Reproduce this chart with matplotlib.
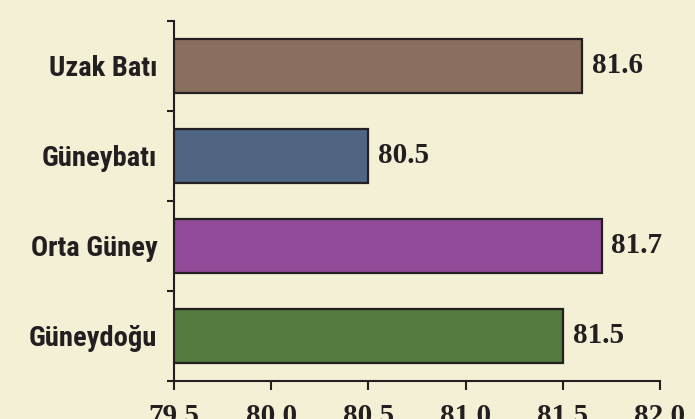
import matplotlib
matplotlib.use("Agg")
import matplotlib.pyplot as plt
from matplotlib.ticker import FixedLocator

categories = ["Uzak Batı", "Güneybatı", "Orta Güney", "Güneydoğu"]
values = [81.6, 80.5, 81.7, 81.5]
colors = ["#8A6F5E", "#4F6582", "#914B99", "#557A3F"]
xticks = [79.5, 80.0, 80.5, 81.0, 81.5, 82.0]
xticklabels = ["79.5", "80.0", "80.5", "81.0", "81.5", "82.0"]

bg = "#F4F0D6"
ink = "#231F20"
label_font = ["Roboto Condensed", "Liberation Sans Narrow", "Lato", "DejaVu Sans"]
num_font = ["Liberation Serif", "DejaVu Serif"]

fig = plt.figure(figsize=(6.95, 4.19), dpi=100, facecolor=bg)
ax = fig.add_axes([0.2504, 0.0907, 0.6992, 0.8592])
ax.set_facecolor(bg)

base = xticks[0]
ypos = list(range(len(categories)))
ax.barh(ypos, [v - base for v in values], left=base, height=0.61,
        color=colors, edgecolor=ink, linewidth=1.6, zorder=3)

for y, v in zip(ypos, values):
    ax.text(v + 0.05, y, f"{v:.1f}", va="center", ha="left",
            fontsize=21, fontweight="bold", family=num_font, color=ink)

ax.set_xlim(xticks[0], xticks[-1])
ax.set_ylim(len(categories) - 0.5, -0.5)
ax.set_xticks(xticks)
ax.set_xticklabels(xticklabels, fontsize=21, fontweight="bold",
                   family=num_font, color=ink)
ax.set_yticks(ypos)
ax.set_yticklabels(categories, fontsize=20.5, fontweight="semibold",
                   family=label_font, color=ink)
ax.yaxis.set_minor_locator(FixedLocator([i - 0.5 for i in range(len(categories) + 1)]))

ax.tick_params(axis="y", which="major", length=0, pad=12)
ax.tick_params(axis="y", which="minor", length=5, width=1.5, color=ink, direction="out")
ax.tick_params(axis="x", which="major", length=6.5, width=1.5, color=ink, direction="out", pad=9.5)

for s in ["top", "right"]:
    ax.spines[s].set_visible(False)
for s in ["left", "bottom"]:
    ax.spines[s].set_linewidth(1.5)
    ax.spines[s].set_color(ink)

fig.savefig("out.png", dpi=100, facecolor=bg)
